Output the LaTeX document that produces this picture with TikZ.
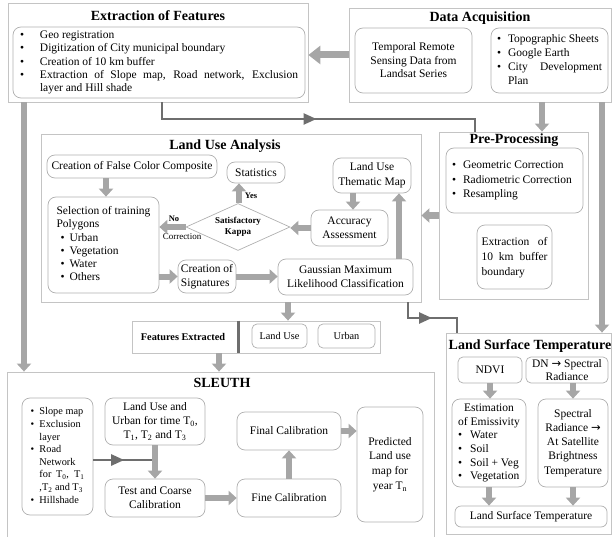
\documentclass[tikz,border=0pt]{standalone}
\usepackage{fontspec}
\setmainfont{Liberation Serif}
\newfontfamily\arrowfont{DejaVu Sans}
\usepackage{tikz}
\usetikzlibrary{arrows.meta,shapes.geometric,decorations.markings}

\definecolor{panelgray}{HTML}{C4C4C4}
\definecolor{boxgray}{HTML}{B0B0B0}
\definecolor{arrgray}{HTML}{A6A6A6}
\definecolor{linegray}{HTML}{6E6E6E}

\newcommand{\bodyfont}{\fontsize{11.5}{14}\selectfont}
\newcommand{\titlefont}{\fontsize{14}{16}\selectfont\bfseries}
\newcommand{\bul}{\textbullet}

\begin{document}
\begin{tikzpicture}[x=1pt, y=-1pt,
  panel/.style={draw=panelgray, line width=0.8pt, inner sep=0pt},
  listbox/.style={draw=boxgray, line width=0.7pt, rounded corners=8pt, fill=white, font=\bodyfont, inner sep=2pt},
  box/.style={listbox, align=center},
  heading/.style={font=\titlefont, inner sep=0pt},
  tag/.style={font=\fontsize{8.5}{10}\selectfont\bfseries, inner sep=0pt},
  flow/.style={draw=arrgray, line width=6pt, -{Triangle[length=8pt,width=14pt]}},
  bigflow/.style={draw=arrgray, line width=7pt, -{Triangle[length=12pt,width=18pt]}},
  link/.style={draw=linegray, line width=2.5pt, postaction={decorate},
    decoration={markings, mark=at position 0.5 with {\arrow{Triangle[length=13pt,width=11pt]}}}}]
\useasboundingbox (0,0) rectangle (612,537);

% data acquisition and feature extraction
\node[panel, minimum width=300pt, minimum height=99pt] (featpanel) at (158,52.5) {};
\node[heading] (feattitle) at (158,16) {Extraction of Features};
\node[listbox, minimum width=292pt, minimum height=71pt, font=\fontsize{11.5}{13.3}\selectfont] (featlist) at (159,62.5) {\begin{tabular}{@{}p{20pt}@{}p{258pt}@{}}
\bul & Geo registration\\
\bul & Digitization of City municipal boundary\\
\bul & Creation of 10 km buffer\\
\bul & \makebox[258pt][s]{Extraction of Slope map, Road network, Exclusion}\\
 & layer and Hill shade
\end{tabular}};

\node[panel, minimum width=262pt, minimum height=94pt] (acqpanel) at (480,55) {};
\node[heading] (acqtitle) at (480,18) {Data Acquisition};
\node[box, minimum width=117pt, minimum height=65pt, font=\fontsize{11.5}{13.5}\selectfont] (landsat) at (413.5,60.5) {Temporal Remote\\Sensing Data from\\Landsat Series};
\node[listbox, minimum width=117pt, minimum height=65pt] (ancillary) at (549.5,60.5) {\begin{tabular}{@{}p{11pt}@{}p{94pt}@{}}
\bul & Topographic Sheets\\
\bul & Google Earth\\
\bul & \makebox[94pt][s]{City Development}\\
 & Plan
\end{tabular}};

% pre-processing
\node[panel, minimum width=149pt, minimum height=167pt] (prepanel) at (513.5,215.5) {};
\node[heading] (pretitle) at (514,140) {Pre-Processing};
\node[listbox, minimum width=137pt, minimum height=65pt, font=\fontsize{11.5}{14.5}\selectfont] (corrections) at (514.5,180.5) {\begin{tabular}{@{}p{11pt}@{}p{114pt}@{}}
\bul & Geometric Correction\\
\bul & Radiometric Correction\\
\bul & Resampling
\end{tabular}};
\node[listbox, minimum width=75pt, minimum height=64pt, font=\fontsize{11.5}{15}\selectfont] (buffer) at (514.5,257) {\begin{tabular}{@{}p{66pt}@{}}
\makebox[66pt][s]{Extraction of}\\
\makebox[66pt][s]{10 km buffer}\\
boundary
\end{tabular}};

% land use analysis
\node[panel, minimum width=380pt, minimum height=168pt] (luapanel) at (231,218) {};
\node[heading] (luatitle) at (225,146) {Land Use Analysis};
\node[box, minimum width=170pt, minimum height=23pt] (fcc) at (132,166.5) {Creation of False Color Composite};
\node[listbox, minimum width=111pt, minimum height=96pt, font=\fontsize{11.5}{13.2}\selectfont] (training) at (103.5,245) {\begin{tabular}{@{}p{4pt}@{}p{9pt}@{}l@{}}
\multicolumn{3}{@{}l@{}}{Selection of training}\\
\multicolumn{3}{@{}l@{}}{Polygons}\\
 & \bul & Urban\\
 & \bul & Vegetation\\
 & \bul & Water\\
 & \bul & Others
\end{tabular}};
\node[draw=boxgray, line width=0.7pt, diamond, shape aspect=2.2, minimum width=104pt, minimum height=47pt, inner sep=0pt, align=center, font=\fontsize{9}{10.5}\selectfont\bfseries] (kappa) at (238,227) {Satisfactory\\Kappa};
\node[box, minimum width=58pt, minimum height=21pt] (stats) at (256,172.5) {Statistics};
\node[box, minimum width=78pt, minimum height=35pt, font=\fontsize{11.5}{15}\selectfont] (thematic) at (372,175.5) {Land Use\\Thematic Map};
\node[box, minimum width=77pt, minimum height=36pt] (accuracy) at (349.5,228) {Accuracy\\Assessment};
\node[box, minimum width=135pt, minimum height=36pt] (gmlc) at (345.5,277) {Gaussian Maximum\\Likelihood Classification};
\node[listbox, align=left, minimum width=56pt, minimum height=33pt, inner xsep=3pt] (signatures) at (207,276.5) {Creation of\\Signatures};
\node[tag] (yes) at (251,196) {Yes};
\node[tag] (no) at (174,219) {No};
\node[font=\fontsize{9}{10}\selectfont, inner sep=0pt] (corr) at (182,237) {Correction};

% features extracted
\node[panel, minimum width=248pt, minimum height=32pt] (fepanel) at (256,337) {};
\node[font=\fontsize{10.3}{12}\selectfont\bfseries, inner sep=0pt] (fetitle) at (183,337) {Features Extracted};
\draw[draw=linegray, line width=3pt] (238,0 |- fepanel.north) -- (238,0 |- fepanel.south);
\node[box, font=\fontsize{10.3}{12}\selectfont, rounded corners=5pt, minimum width=55pt, minimum height=24pt] (feland) at (279.5,336) {Land Use};
\node[box, font=\fontsize{10.3}{12}\selectfont, rounded corners=5pt, minimum width=57pt, minimum height=24pt] (feurban) at (346.5,336) {Urban};

% sleuth
\node[panel, minimum width=427pt, minimum height=172pt] (sleuthpanel) at (220.5,458) {};
\node[heading] (sleuthtitle) at (222,383) {SLEUTH};
\node[listbox, minimum width=71pt, minimum height=117pt, font=\fontsize{10.3}{12.6}\selectfont] (drivers) at (57.5,456.5) {\begin{tabular}{@{}p{9pt}@{}p{45pt}@{}}
\bul & Slope map\\
\bul & Exclusion\\
 & layer\\
\bul & Road\\
 & Network\\
 & \makebox[45pt][s]{for T\textsubscript{0}, T\textsubscript{1}}\\
 & ,T\textsubscript{2} and T\textsubscript{3}\\
\bul & Hillshade
\end{tabular}};
\node[box, minimum width=100pt, minimum height=47pt] (timeseries) at (155,421.5) {Land Use and\\Urban for time T\textsubscript{0},\\T\textsubscript{1}, T\textsubscript{2} and T\textsubscript{3}};
\node[box, minimum width=100pt, minimum height=38pt] (coarse) at (155,498) {Test and Coarse\\Calibration};
\node[box, minimum width=104pt, minimum height=38pt] (fine) at (289,498) {Fine Calibration};
\node[box, minimum width=104pt, minimum height=38pt] (final) at (289,431) {Final Calibration};
\node[box, minimum width=66pt, minimum height=115pt, font=\fontsize{11.5}{14.7}\selectfont] (predicted) at (390,464.5) {Predicted\\Land use\\map for\\year T\textsubscript{n}};

% land surface temperature
\node[panel, minimum width=165pt, minimum height=201pt] (lstpanel) at (528.5,433.5) {};
\node[heading] (lsttitle) at (530,346) {Land Surface Temperature};
\node[box, rounded corners=5pt, minimum width=64pt, minimum height=26pt] (ndvi) at (490,370) {NDVI};
\node[box, rounded corners=5pt, inner ysep=0pt, minimum width=82pt, minimum height=26pt, font=\fontsize{11.5}{13}\selectfont] (dn) at (567,370) {DN {\arrowfont →} Spectral\\Radiance};
\node[listbox, minimum width=74pt, minimum height=88pt, font=\fontsize{11.5}{13.6}\selectfont] (emissivity) at (489,443) {\begin{tabular}{@{}p{12pt}@{}l@{}}
\multicolumn{2}{@{}c@{}}{Estimation}\\
\multicolumn{2}{@{}c@{}}{of Emissivity}\\
\bul & Water\\
\bul & Soil\\
\bul & Soil + Veg\\
\bul & Vegetation
\end{tabular}};
\node[box, minimum width=70pt, minimum height=88pt, font=\fontsize{11.5}{14.2}\selectfont] (brightness) at (573,443) {Spectral\\Radiance {\arrowfont →}\\At Satellite\\Brightness\\Temperature};
\node[box, rounded corners=6pt, minimum width=152pt, minimum height=21pt] (lstresult) at (531,516.5) {Land Surface Temperature};

% connectors
\draw[bigflow] (acqpanel.west) -- (acqpanel.west -| featpanel.east);
\draw[flow] (542,0 |- acqpanel.south) -- (542,0 |- prepanel.north);
\draw[flow] (602,0 |- acqpanel.south) -- (602,0 |- lstpanel.north);
\draw[flow] (prepanel.west) -- (prepanel.west -| luapanel.east);
\draw[flow] (24,0 |- featpanel.south) -- (24,0 |- sleuthpanel.north);
\draw[link] (162,0 |- featpanel.south) |- (475,119) -- (475,0 |- prepanel.north);
\draw[link] (408,0 |- luapanel.south) |- (457,318) -- (457,0 |- lstpanel.north);

\draw[flow] (106,0 |- fcc.south) -- (106,0 |- training.north);
\draw[flow] (kappa.west) -- (kappa.west -| training.east);
\draw[flow] (239,0 |- kappa.north) -- (239,0 |- stats.south);
\draw[flow] (353,0 |- thematic.south) -- (353,0 |- accuracy.north);
\draw[flow] (accuracy.west) -- (accuracy.west -| kappa.east);
\draw[flow] (training.east |- signatures.west) -- (signatures.west);
\draw[flow] (signatures.east) -- (signatures.east -| gmlc.west);
\draw[flow] (399,0 |- gmlc.north) -- (399,0 |- thematic.south);
\draw[flow] (288,0 |- luapanel.south) -- (288,0 |- fepanel.north);
\draw[flow] (219,0 |- fepanel.south) -- (219,0 |- sleuthpanel.north);

\coordinate (merge) at (timeseries.south |- 0,460);
\draw[link] (drivers.east |- merge) -- (merge);
\draw[flow] (timeseries.south) -- (coarse.north);
\draw[flow] (coarse.east) -- (fine.west);
\draw[flow] (fine.north) -- (final.south);
\draw[flow] (final.east) -- (final.east -| predicted.west);

\draw[flow] (ndvi.south) -- (ndvi.south |- emissivity.north);
\draw[flow] (brightness.north |- dn.south) -- (brightness.north);
\draw[flow] (emissivity.south) -- (emissivity.south |- lstresult.north);
\draw[flow] (brightness.south) -- (brightness.south |- lstresult.north);
\end{tikzpicture}
\end{document}
